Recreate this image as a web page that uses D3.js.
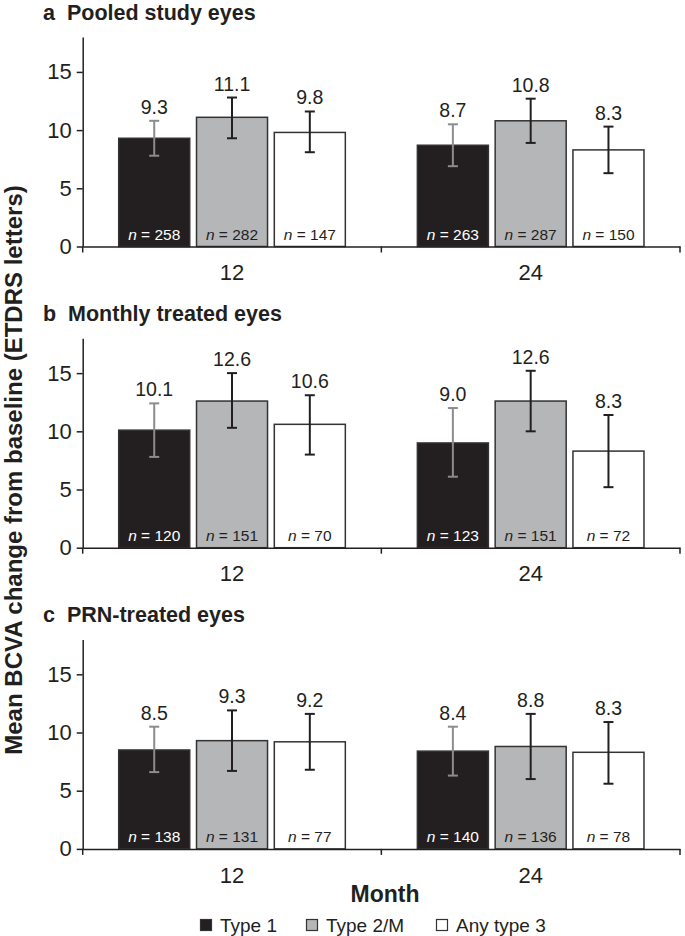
<!DOCTYPE html>
<html lang="en">
<head>
<meta charset="UTF-8">
<title>Mean BCVA change by lesion type</title>
<script src="https://d3js.org/d3.v7.min.js"></script>
<style>
  body { margin: 0; background: #fff; }
  svg text { font-family: "Liberation Sans", Arial, Helvetica, sans-serif; fill: #231f20; }
</style>
</head>
<body>
<div id="chart"></div>
<script>
// Categories
const months = ["12", "24"];
const types = ["Type 1", "Type 2/M", "Any type 3"];
const panelTitles = ["a  Pooled study eyes", "b  Monthly treated eyes", "c  PRN-treated eyes"];
const yTicks = [0, 5, 10, 15];

// Values, ordered month 12 (Type 1, Type 2/M, Any type 3) then month 24
const pooledMean = [9.3, 11.1, 9.8, 8.7, 10.8, 8.3];
const pooledLow  = [7.8, 9.3, 8.1, 6.9, 8.9, 6.3];
const pooledHigh = [10.8, 12.8, 11.6, 10.5, 12.7, 10.3];
const pooledN    = [258, 282, 147, 263, 287, 150];

const monthlyMean = [10.1, 12.6, 10.6, 9.0, 12.6, 8.3];
const monthlyLow  = [7.8, 10.3, 8.0, 6.1, 10.0, 5.2];
const monthlyHigh = [12.4, 15.0, 13.1, 12.0, 15.2, 11.4];
const monthlyN    = [120, 151, 70, 123, 151, 72];

const prnMean = [8.5, 9.3, 9.2, 8.4, 8.8, 8.3];
const prnLow  = [6.6, 6.7, 6.8, 6.3, 6.0, 5.6];
const prnHigh = [10.5, 11.9, 11.6, 10.5, 11.6, 10.9];
const prnN    = [138, 131, 77, 140, 136, 78];

// Build rows for each panel
function rows(mean, low, high, n) {
  return mean.map((v, i) => ({
    month: months[Math.floor(i / types.length)],
    type: types[i % types.length],
    value: v, low: low[i], high: high[i], n: n[i]
  }));
}
const panels = [
  rows(pooledMean, pooledLow, pooledHigh, pooledN),
  rows(monthlyMean, monthlyLow, monthlyHigh, monthlyN),
  rows(prnMean, prnLow, prnHigh, prnN)
];

const fills = { "Type 1": "#231f20", "Type 2/M": "#b5b6b8", "Any type 3": "#ffffff" };
const errColor = { "Type 1": "#8c8c8c", "Type 2/M": "#231f20", "Any type 3": "#231f20" };
const nColor = { "Type 1": "#ffffff", "Type 2/M": "#231f20", "Any type 3": "#231f20" };
const ink = "#231f20";

const W = 685, H = 936;
const left = 82.7, right = 680;
const panelTop = 37, panelStep = 301.2, plotH = 209.5;

const svg = d3.select("#chart").append("svg")
  .attr("width", W).attr("height", H);

const x0 = d3.scaleBand().domain(months).range([left, right]).padding(0);
const x1 = d3.scaleBand().domain(types).range([0, x0.bandwidth()])
  .paddingInner(0.087).paddingOuter(0.463);
const y = d3.scaleLinear().domain([0, 18]).range([plotH, 0]);

panels.forEach((data, p) => {
  const g = svg.append("g").attr("transform", `translate(0,${panelTop + p * panelStep})`);

  // panel title
  g.append("text")
    .attr("x", 43).attr("y", -17)
    .attr("font-size", 21.5).attr("font-weight", "bold")
    .attr("xml:space", "preserve")
    .text(panelTitles[p]);

  // bars
  const bars = g.append("g").selectAll("g.bar").data(data).join("g")
    .attr("transform", d => `translate(${x0(d.month) + x1(d.type)},0)`);

  bars.append("rect")
    .attr("x", 0).attr("width", x1.bandwidth())
    .attr("y", d => y(d.value)).attr("height", d => y(0) - y(d.value))
    .attr("fill", d => fills[d.type])
    .attr("stroke", "#333").attr("stroke-width", 1.5);

  // error bars
  const cx = x1.bandwidth() / 2, cap = 5;
  bars.append("line")
    .attr("x1", cx).attr("x2", cx)
    .attr("y1", d => y(d.low)).attr("y2", d => y(d.high))
    .attr("stroke", d => errColor[d.type]).attr("stroke-width", 2);
  [d => d.low, d => d.high].forEach(acc => {
    bars.append("line")
      .attr("x1", cx - cap).attr("x2", cx + cap)
      .attr("y1", d => y(acc(d))).attr("y2", d => y(acc(d)))
      .attr("stroke", d => errColor[d.type]).attr("stroke-width", 2);
  });

  // value labels
  bars.append("text")
    .attr("x", cx).attr("y", d => y(d.high) - 7)
    .attr("text-anchor", "middle").attr("font-size", 19.5)
    .text(d => d.value.toFixed(1));

  // n labels
  const nt = bars.append("text")
    .attr("x", cx).attr("y", y(0) - 7)
    .attr("text-anchor", "middle").attr("font-size", 15.5)
    .style("fill", d => nColor[d.type]);
  nt.append("tspan").attr("font-style", "italic").text("n");
  nt.append("tspan").text(d => ` = ${d.n}`);

  // y axis
  g.append("g")
    .attr("transform", `translate(${left},0)`)
    .call(d3.axisLeft(y).tickValues(yTicks).tickSize(6).tickSizeOuter(0).tickPadding(5))
    .call(a => a.select(".domain").attr("stroke", ink).attr("stroke-width", 1.5))
    .call(a => a.selectAll(".tick line").attr("stroke", ink).attr("stroke-width", 1.5))
    .call(a => a.selectAll(".tick text").attr("font-size", 22).attr("font-family", null).style("fill", ink));

  // x axis
  g.append("g")
    .attr("transform", `translate(0,${y(0)})`)
    .call(d3.axisBottom(x0).tickSize(0).tickPadding(18).tickSizeOuter(0))
    .call(a => a.select(".domain").attr("stroke", ink).attr("stroke-width", 1.5))
    .call(a => a.selectAll(".tick text").attr("font-size", 22).attr("font-family", null).style("fill", ink));

  // group boundary ticks
  const bounds = months.map(m => x0(m)).concat([x0(months[months.length - 1]) + x0.bandwidth()]);
  g.append("g").selectAll("line").data(bounds).join("line")
    .attr("x1", d => d).attr("x2", d => d)
    .attr("y1", y(0)).attr("y2", y(0) + 6)
    .attr("stroke", ink).attr("stroke-width", 1.5);
});

// axis titles
svg.append("text")
  .attr("transform", "translate(22,470) rotate(-90)")
  .attr("text-anchor", "middle")
  .attr("font-size", 24).attr("font-weight", "bold")
  .text("Mean BCVA change from baseline (ETDRS letters)");

svg.append("text")
  .attr("x", 385).attr("y", 901.5)
  .attr("text-anchor", "middle")
  .attr("font-size", 23).attr("font-weight", "bold")
  .text("Month");

// legend
const legendX = [200, 306, 436];
const lg = svg.append("g").selectAll("g").data(types).join("g")
  .attr("transform", (d, i) => `translate(${legendX[i]},919.5)`);
lg.append("rect")
  .attr("x", 0.5).attr("y", 0).attr("width", 11).attr("height", 11)
  .attr("fill", d => fills[d]).attr("stroke", "#333").attr("stroke-width", 1.2);
lg.append("text")
  .attr("x", 20).attr("y", 12)
  .attr("font-size", 19)
  .text(d => d);
</script>
</body>
</html>
